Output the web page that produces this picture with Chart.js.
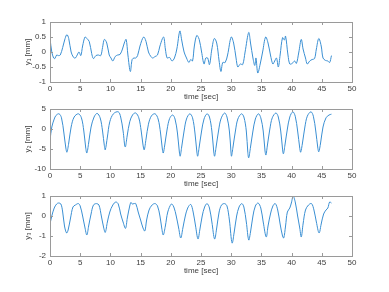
<!DOCTYPE html>
<html>
<head>
<meta charset="utf-8">
<script src="https://cdn.jsdelivr.net/npm/chart.js@4.4.1/dist/chart.umd.min.js"></script>
<style>
  html, body { margin: 0; padding: 0; background: #fff; }
  #fig { position: relative; width: 389px; height: 292px; overflow: hidden; }
  #fig canvas { position: absolute; left: 0; }
</style>
</head>
<body>
<div id="fig">
  <canvas id="c1" width="389" height="102" style="top:0px"></canvas>
  <canvas id="c2" width="389" height="102" style="top:87px"></canvas>
  <canvas id="c3" width="389" height="102" style="top:174px"></canvas>
</div>
<script>
// ---- data ----
const xTicks = [0, 5, 10, 15, 20, 25, 30, 35, 40, 45, 50];

const t1 = [0, 0.3, 0.6, 0.8, 1.1, 1.4, 1.7, 2.1, 2.5, 2.8, 3.1, 3.5, 3.9, 4.2, 4.5, 4.8, 5.1, 5.4, 5.8, 6.1,
  6.5, 6.9, 7.2, 7.6, 8.0, 8.4, 8.7, 9.0, 9.4, 9.8, 10.1, 10.4, 10.8, 11.2, 11.6, 12.0, 12.3, 12.6, 12.9, 13.3,
  13.6, 13.9, 14.2, 14.5, 14.9, 15.5, 15.9, 16.3, 16.7, 17.0, 17.4, 17.8, 18.2, 18.8, 19.1, 19.4, 19.8, 20.2, 20.6, 21.0,
  21.5, 21.8, 22.2, 22.6, 23.0, 23.3, 23.6, 23.9, 24.3, 24.7, 25.1, 25.5, 25.8, 26.1, 26.4, 26.8, 27.2, 27.6, 28.0, 28.3,
  28.6, 29.0, 29.4, 30.0, 30.4, 30.8, 31.1, 31.5, 31.9, 32.3, 32.9, 33.2, 33.6, 33.9, 34.1, 34.4, 34.8, 35.2, 35.7, 36.1,
  36.5, 36.9, 37.2, 37.5, 37.8, 38.1, 38.5, 38.8, 39.0, 39.4, 39.7, 40.1, 40.5, 40.8, 41.2, 41.6, 41.9, 42.3, 42.6, 43.0,
  43.4, 43.8, 44.1, 44.5, 44.9, 45.2, 45.6, 46.0, 46.3, 46.6];
const y1 = [0.45, 0.0, -0.2, -0.22, -0.1, -0.12, -0.1, 0.15, 0.45, 0.58, 0.45, 0.0, -0.18, -0.2, -0.1, 0.0, -0.12, 0.2, 0.5, 0.45,
  0.35, -0.05, -0.22, -0.12, -0.1, -0.12, 0.15, 0.42, 0.3, -0.1, -0.2, -0.3, -0.15, -0.1, -0.08, 0.1, 0.3, 0.42, -0.1, -0.65,
  -0.25, -0.2, -0.2, -0.12, 0.2, 0.5, 0.35, 0.0, -0.15, -0.2, -0.15, -0.1, 0.2, 0.5, 0.1, -0.2, -0.18, -0.3, -0.2, 0.1,
  0.7, 0.4, 0.0, -0.2, -0.35, -0.25, -0.3, 0.2, 0.55, 0.42, 0.0, -0.4, -0.2, -0.2, -0.42, 0.1, 0.45, 0.3, -0.3, -0.65,
  -0.35, -0.35, -0.1, 0.5, 0.3, -0.2, -0.5, -0.4, -0.42, 0.0, 0.65, 0.3, -0.2, -0.45, -0.2, -0.7, -0.4, 0.0, 0.5, 0.3,
  -0.1, -0.4, -0.3, -0.2, -0.5, -0.1, 0.48, 0.4, 0.53, -0.1, -0.4, -0.38, -0.3, -0.38, 0.0, 0.42, 0.1, -0.2, -0.4, -0.3,
  -0.25, -0.22, 0.1, 0.45, 0.2, -0.2, -0.28, -0.3, -0.35, -0.12];

const t2 = [0, 0.3, 0.7, 1.0, 1.5, 1.9, 2.3, 2.6, 2.8, 3.1, 3.5, 4.0, 4.7, 5.2, 5.6, 5.9, 6.1, 6.4, 6.8, 7.3,
  7.8, 8.3, 8.7, 9.0, 9.15, 9.5, 9.9, 10.5, 11.3, 11.7, 12.1, 12.45, 12.8, 13.2, 13.7, 14.2, 14.7, 15.1, 15.4, 15.6,
  15.9, 16.3, 16.8, 17.4, 17.9, 18.3, 18.6, 18.75, 19.0, 19.4, 19.8, 20.3, 20.7, 21.1, 21.4, 21.55, 21.8, 22.2, 22.6, 23.15,
  23.6, 24.0, 24.3, 24.45, 24.7, 25.1, 25.5, 26.0, 26.4, 26.8, 27.1, 27.25, 27.5, 27.9, 28.3, 28.9, 29.3, 29.7, 29.95, 30.05,
  30.3, 30.7, 31.1, 31.7, 32.1, 32.5, 32.75, 32.9, 33.2, 33.6, 34.0, 34.5, 34.9, 35.3, 35.6, 35.75, 36.0, 36.4, 36.8, 37.4,
  37.8, 38.2, 38.5, 38.65, 38.9, 39.3, 39.7, 40.2, 40.6, 41.0, 41.35, 41.5, 41.8, 42.2, 42.6, 43.2, 43.6, 44.0, 44.35, 44.5,
  44.8, 45.2, 45.7, 46.2, 46.6];
const y2 = [-2.8, 0.5, 2.5, 3.4, 3.8, 2.8, -1.0, -4.5, -5.8, -3.5, 0.5, 3.0, 3.8, 2.8, -0.5, -4.5, -6.0, -3.5, 0.5, 3.0,
  3.9, 2.8, -0.5, -4.2, -5.2, -2.0, 1.8, 3.8, 4.3, 3.0, -0.5, -4.5, -1.5, 1.8, 3.6, 4.0, 2.8, -0.5, -4.0, -5.2,
  -2.5, 1.2, 3.3, 3.8, 2.5, -1.0, -5.0, -6.0, -4.0, 0.0, 2.6, 3.5, 2.5, -1.0, -5.5, -6.8, -4.5, -0.5, 2.5, 3.8,
  2.8, -1.0, -5.5, -6.8, -4.5, -0.5, 2.5, 3.8, 3.0, -0.5, -5.5, -6.8, -4.5, -0.5, 2.5, 4.0, 3.0, -0.5, -5.5, -6.8,
  -4.5, -0.5, 2.5, 3.8, 3.0, -0.5, -5.8, -7.2, -4.5, -0.5, 2.5, 3.8, 2.8, -0.5, -5.5, -6.5, -4.0, 0.0, 2.8, 4.0,
  3.0, -0.5, -5.0, -6.2, -4.0, 0.0, 3.0, 4.3, 3.2, -0.5, -4.8, -5.8, -3.5, 0.5, 3.2, 4.3, 3.2, -0.5, -4.8, -5.7,
  -3.5, 0.5, 2.8, 3.5, 3.7];

const t3 = [0, 0.3, 0.7, 1.1, 1.4, 1.8, 2.1, 2.4, 2.75, 3.0, 3.4, 3.8, 4.2, 4.7, 5.0, 5.4, 5.8, 6.1, 6.4, 6.8,
  7.2, 7.7, 8.1, 8.5, 8.9, 9.15, 9.5, 9.9, 10.4, 10.9, 11.3, 11.7, 12.1, 12.5, 12.8, 13.2, 13.4, 13.6, 13.9, 14.2,
  14.6, 15.0, 15.4, 15.7, 16.0, 16.4, 16.9, 17.4, 17.8, 18.2, 18.5, 18.75, 19.1, 19.5, 20.1, 20.5, 20.9, 21.3, 21.65, 22.0,
  22.4, 22.8, 23.3, 23.7, 24.1, 24.5, 24.8, 25.2, 25.6, 26.0, 26.4, 26.8, 27.25, 27.6, 28.0, 28.4, 28.9, 29.3, 29.7, 30.15,
  30.5, 30.9, 31.3, 31.75, 32.1, 32.5, 32.9, 33.2, 33.6, 34.0, 34.45, 34.9, 35.3, 35.8, 36.1, 36.5, 36.9, 37.3, 37.7, 38.1,
  38.5, 38.7, 39.0, 39.3, 39.7, 40.0, 40.25, 40.6, 41.0, 41.35, 41.6, 41.9, 42.3, 42.8, 43.3, 43.7, 44.1, 44.55, 44.9, 45.3,
  45.7, 46.0, 46.3, 46.6];
const y3 = [-0.4, 0.0, 0.4, 0.6, 0.65, 0.6, 0.2, -0.5, -0.85, -0.7, -0.1, 0.45, 0.55, 0.62, 0.5, 0.0, -0.6, -0.95, -0.5, 0.1,
  0.55, 0.62, 0.55, 0.0, -0.6, -0.82, -0.3, 0.2, 0.55, 0.7, 0.6, 0.1, -0.3, -0.62, -0.1, 0.5, 0.68, 0.6, 0.62, 0.62,
  0.2, -0.2, -0.6, -0.75, -0.2, 0.3, 0.55, 0.62, 0.5, 0.0, -0.6, -0.95, -0.5, 0.2, 0.6, 0.45, 0.0, -0.6, -1.1, -0.6,
  0.0, 0.4, 0.58, 0.2, -0.5, -1.15, -0.7, 0.0, 0.45, 0.62, 0.4, -0.3, -1.15, -0.6, 0.2, 0.55, 0.62, 0.5, -0.2, -1.35,
  -0.8, 0.0, 0.45, 0.62, 0.45, -0.3, -1.2, -0.8, 0.0, 0.5, 0.65, 0.4, -0.3, -1.05, -0.5, 0.1, 0.5, 0.62, 0.3, -0.4,
  -1.0, -1.1, -0.5, 0.2, 0.4, 0.7, 1.0, 0.7, 0.0, -0.6, -1.05, -0.4, 0.3, 0.55, 0.62, 0.3, -0.3, -0.85, -0.4, 0.1,
  0.3, 0.4, 0.7, 0.65];

const yTicks1 = [-1, -0.5, 0, 0.5, 1];
const yTicks2 = [-10, -5, 0, 5];
const yTicks3 = [-2, -1, 0, 1];

// ---- styling ----
const FONT = 'Liberation Sans, Arial, Helvetica, sans-serif';
const LINE = '#3a8fd3';
const AXIS = '#9a9a9a';
const TEXT = '#404040';

// box + inward ticks like MATLAB
const boxPlugin = {
  id: 'box',
  afterDatasetsDraw(chart) {
    const { ctx, chartArea: a, scales } = chart;
    ctx.save();
    ctx.strokeStyle = AXIS;
    ctx.lineWidth = 1;
    ctx.strokeRect(Math.round(a.left) + 0.5, Math.round(a.top) + 0.5,
      Math.round(a.right - a.left), Math.round(a.bottom - a.top));
    ctx.beginPath();
    scales.x.ticks.forEach(tk => {
      const px = Math.round(scales.x.getPixelForValue(tk.value)) + 0.5;
      ctx.moveTo(px, a.bottom); ctx.lineTo(px, a.bottom - 3);
      ctx.moveTo(px, a.top); ctx.lineTo(px, a.top + 3);
    });
    scales.y.ticks.forEach(tk => {
      const py = Math.round(scales.y.getPixelForValue(tk.value)) + 0.5;
      ctx.moveTo(a.left, py); ctx.lineTo(a.left + 3, py);
      ctx.moveTo(a.right, py); ctx.lineTo(a.right - 3, py);
    });
    ctx.stroke();
    ctx.restore();
  }
};

function makeChart(id, ts, ys, yTicks, yLabel) {
  const pts = ts.map((t, i) => ({ x: t, y: ys[i] }));
  return new Chart(document.getElementById(id), {
    type: 'line',
    data: {
      datasets: [{
        data: pts,
        borderColor: LINE,
        borderWidth: 1,
        pointRadius: 0,
        tension: 0.35,
        fill: false
      }]
    },
    options: {
      responsive: false,
      animation: false,
      devicePixelRatio: 1,
      layout: { padding: { left: 20, right: 37, top: 22, bottom: 0 } },
      plugins: { legend: { display: false }, tooltip: { enabled: false } },
      scales: {
        x: {
          type: 'linear', min: 0, max: 50,
          afterBuildTicks: s => { s.ticks = xTicks.map(v => ({ value: v })); },
          afterFit: s => { s.height = 20; },
          grid: { display: false, drawTicks: false },
          border: { display: false },
          ticks: { padding: 2, color: TEXT, font: { family: FONT, size: 8 }, maxRotation: 0,
            callback: v => String(v) },
          title: { display: true, text: 'time [sec]', color: TEXT, font: { family: FONT, size: 8 }, padding: 0 }
        },
        y: {
          type: 'linear', min: yTicks[0], max: yTicks[yTicks.length - 1],
          afterBuildTicks: s => { s.ticks = yTicks.map(v => ({ value: v })); },
          afterFit: s => { s.width = 30; },
          grid: { display: false, drawTicks: false },
          border: { display: false },
          ticks: { padding: 4, color: TEXT, font: { family: FONT, size: 8 },
            callback: v => String(v) },
          title: { display: true, text: yLabel, color: TEXT, font: { family: FONT, size: 8 }, padding: { top: 3, bottom: 0 } }
        }
      }
    },
    plugins: [boxPlugin]
  });
}

makeChart('c1', t1, y1, yTicks1, 'y\u2081 [mm]');
makeChart('c2', t2, y2, yTicks2, 'y\u2082 [mm]');
makeChart('c3', t3, y3, yTicks3, 'y\u2083 [mm]');
</script>
</body>
</html>
